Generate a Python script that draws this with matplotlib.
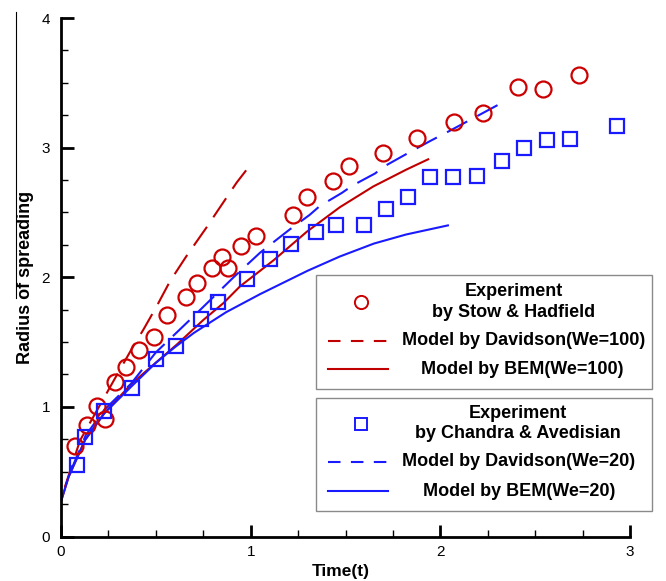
import numpy as np
import matplotlib
matplotlib.use("Agg")
import matplotlib.pyplot as plt
from matplotlib.patches import Rectangle
from matplotlib.lines import Line2D

plt.rcParams['font.family'] = ['Liberation Sans', 'DejaVu Sans']

# experimento Stow & Hadfield (We=100)
stow_t = [0.074, 0.135, 0.19, 0.23, 0.285, 0.345, 0.41, 0.49, 0.56, 0.66, 0.715,
          0.795, 0.847, 0.88, 0.95, 1.03, 1.225, 1.295, 1.435, 1.52, 1.70, 1.875,
          2.07, 2.225, 2.41, 2.54, 2.73]
stow_r = [0.70, 0.86, 1.01, 0.91, 1.19, 1.31, 1.44, 1.54, 1.71, 1.85, 1.955,
          2.07, 2.16, 2.07, 2.24, 2.315, 2.48, 2.62, 2.74, 2.855, 2.96, 3.075,
          3.20, 3.265, 3.47, 3.45, 3.56]

# experimento Chandra & Avedisian (We=20)
chandra_t = [0.083, 0.127, 0.228, 0.373, 0.50, 0.605, 0.738, 0.83, 0.982, 1.10,
             1.215, 1.345, 1.45, 1.60, 1.713, 1.83, 1.945, 2.065, 2.195, 2.323,
             2.44, 2.56, 2.683, 2.933]
chandra_r = [0.55, 0.77, 0.97, 1.145, 1.37, 1.47, 1.68, 1.81, 1.99, 2.14,
             2.26, 2.35, 2.40, 2.40, 2.53, 2.62, 2.77, 2.77, 2.78, 2.90,
             3.00, 3.06, 3.07, 3.17]

# modelo Davidson We=100
dav100_t = [0.02, 0.1, 0.2, 0.3, 0.38, 0.434, 0.504, 0.575, 0.66, 0.77, 0.82, 0.926, 1.0]
dav100_r = [0.38, 0.74, 1.0, 1.26, 1.465, 1.595, 1.775, 1.97, 2.16, 2.39, 2.50, 2.73, 2.87]

# modelo BEM We=100
bem100_t = [0.0, 0.04, 0.127, 0.228, 0.373, 0.61, 0.75, 0.856, 0.944, 1.05, 1.12,
            1.295, 1.47, 1.646, 1.82, 1.936]
bem100_r = [0.27, 0.46, 0.745, 0.95, 1.18, 1.48, 1.67, 1.80, 1.93, 2.05, 2.13,
            2.35, 2.54, 2.70, 2.83, 2.91]

# modelo Davidson We=20
dav20_t = [0.05, 0.13, 0.23, 0.37, 0.5, 0.7, 0.91, 1.05, 1.137, 1.207, 1.31, 1.365,
           1.48, 1.54, 1.655, 1.71, 1.82, 1.945, 2.05, 2.33]
dav20_r = [0.5, 0.78, 0.98, 1.18, 1.42, 1.7, 2.0, 2.19, 2.29, 2.37, 2.48, 2.55,
           2.65, 2.71, 2.80, 2.86, 2.95, 3.05, 3.13, 3.35]

# modelo BEM We=20
bem20_t = [0.0, 0.04, 0.127, 0.228, 0.373, 0.5, 0.6, 0.7, 0.87, 1.05, 1.3, 1.47,
           1.65, 1.82, 2.04]
bem20_r = [0.27, 0.46, 0.745, 0.95, 1.16, 1.34, 1.46, 1.57, 1.73, 1.87, 2.05, 2.16,
           2.26, 2.33, 2.40]

red = '#cc0000'
red_line = '#c00000'
blue = '#1a1aff'

W, H = 666, 581
fig = plt.figure(figsize=(W / 100, H / 100), dpi=100)
ax = fig.add_axes([61 / W, 1 - 536.5 / H, 569 / W, 518.5 / H])

ax.plot(dav100_t, dav100_r, color=red_line, lw=1.5, dashes=(11, 5.5))
ax.plot(bem100_t, bem100_r, color=red_line, lw=1.5)
ax.plot(dav20_t, dav20_r, color=blue, lw=1.5, dashes=(11, 5.5))
ax.plot(bem20_t, bem20_r, color=blue, lw=1.5)
ax.plot(stow_t, stow_r, 'o', mfc='none', mec=red, ms=11.5, mew=1.6)
ax.plot(chandra_t, chandra_r, 's', mfc='none', mec=blue, ms=10, mew=1.6)

ax.set_xlim(0, 3)
ax.set_ylim(0, 4)
ax.set_xticks([0, 1, 2, 3])
ax.set_yticks([0, 1, 2, 3, 4])
ax.set_xticks(np.arange(0, 3.01, 0.25), minor=True)
ax.set_yticks(np.arange(0, 4.01, 0.25), minor=True)
ax.tick_params(which='major', direction='in', length=9, width=2, labelsize=11, pad=8)
ax.tick_params(axis='x', which='major', pad=6)
ax.tick_params(which='minor', direction='in', length=5, width=1)
ax.spines['top'].set_visible(False)
ax.spines['right'].set_visible(False)
ax.spines['left'].set_linewidth(2)
ax.spines['bottom'].set_linewidth(2)

ax.set_xlabel("Time(t)", fontsize=12.5, fontweight='bold', va='top')
ax.xaxis.set_label_coords(0.492, -0.054)
ax.set_ylabel("Radius of spreading", fontsize=13, fontweight='bold')
ax.yaxis.set_label_coords(-0.047, 0.5)


# leyenda a mano, en pixeles de la figura
def fx(px):
    return px / W


def fy(py):
    return 1 - py / H


def caja(y0, y1):
    fig.add_artist(Rectangle((fx(316), fy(y1)), fx(652) - fx(316), fy(y0) - fy(y1),
                             transform=fig.transFigure, fill=False,
                             edgecolor='#8a8a8a', lw=1.0))


def muestra(py, color, dashed):
    ln = Line2D([fx(328), fx(388)], [fy(py), fy(py)], transform=fig.transFigure,
                color=color, lw=1.5)
    if dashed:
        ln.set_dashes((6, 5))
    fig.add_artist(ln)


def texto(px, py, s):
    fig.text(fx(px), fy(py), s, ha='center', va='center', fontsize=13,
             fontweight='bold')


caja(275, 389)
fig.add_artist(Line2D([fx(361)], [fy(301.7)], transform=fig.transFigure,
                      marker='o', mfc='none', mec=red, ms=9.5, mew=1.4))
texto(514, 291.7, "Experiment")
texto(514, 312.7, "by Stow & Hadfield")
muestra(340.7, red_line, True)
texto(523.5, 340.7, "Model by Davidson(We=100)")
muestra(369, red_line, False)
texto(522, 369, "Model by BEM(We=100)")

caja(398, 511)
fig.add_artist(Line2D([fx(361)], [fy(424)], transform=fig.transFigure,
                      marker='s', mfc='none', mec=blue, ms=8.5, mew=1.4))
texto(518, 413.3, "Experiment")
texto(518, 434, "by Chandra & Avedisian")
muestra(461.7, blue, True)
texto(518.5, 461.7, "Model by Davidson(We=20)")
muestra(491, blue, False)
texto(519, 491, "Model by BEM(We=20)")

# linea vertical suelta junto a la etiqueta
fig.add_artist(Line2D([fx(16), fx(16)], [fy(12), fy(298)], transform=fig.transFigure,
                      color='black', lw=0.8))

fig.savefig("out.png", dpi=100)
